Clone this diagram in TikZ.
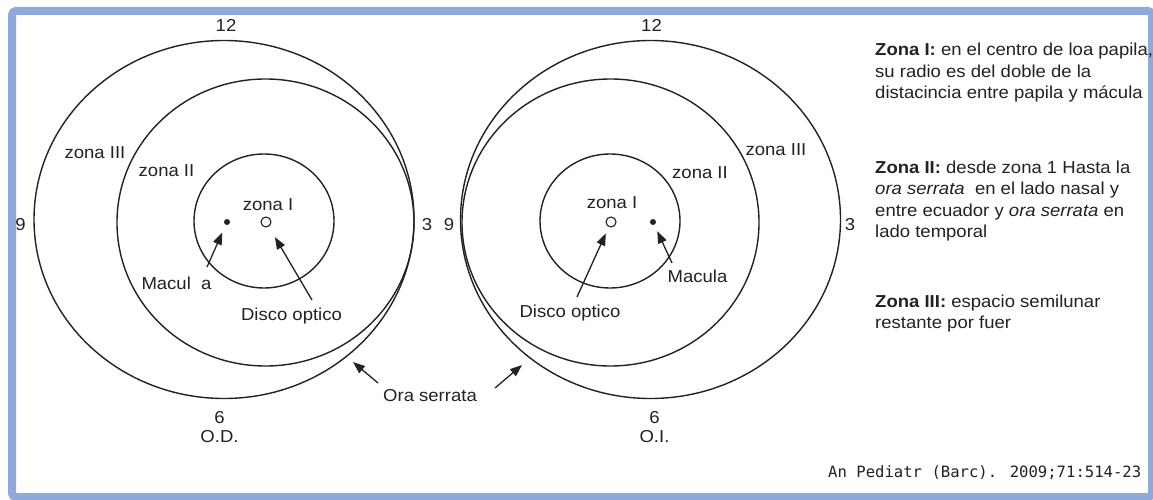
\documentclass[tikz,border=0pt]{standalone}
\usepackage{fontspec}
\setmainfont{Liberation Sans}[FakeStretch=1.07]
\newfontfamily\citefont{DejaVu Sans Mono}
\usetikzlibrary{arrows.meta}
\definecolor{framebl}{RGB}{143,169,219}
\definecolor{ink}{RGB}{34,34,34}
\begin{document}
\begin{tikzpicture}[x=1pt,y=-1pt,
  ring/.style={draw=ink, line width=1.4pt},
  lbl/.style={inner sep=0pt, text=ink, font=\fontsize{17.3}{21}\selectfont,
              text height=12.4pt, text depth=0pt},
  txt/.style={inner sep=0pt, anchor=base west, text=ink,
              font=\fontsize{17.3}{21}\selectfont},
  macdot/.style={circle, fill=ink, inner sep=0pt, minimum size=6pt},
  discdot/.style={circle, draw=ink, fill=white, line width=1.1pt, inner sep=0pt, minimum size=10pt},
  arr/.style={draw=ink, line width=1.3pt, -{Triangle[length=12pt,width=9pt]}}
]
\useasboundingbox (0,0) rectangle (1153,500);
\fill[white] (0,0) rectangle (1153,500);

% outer frame
\begin{scope}
\clip (0,0) rectangle (1153,500);
\draw[framebl, line width=8pt, rounded corners=4pt] (12,11) rectangle (1152,497);
\end{scope}

% ---------- right eye (O.D.) ----------
\draw[ring] (224,219.5) ellipse [x radius=190pt, y radius=179pt];
\draw[ring] (265.5,222.5) ellipse [x radius=148.5pt, y radius=143.5pt];
\draw[ring] (264,221) ellipse [x radius=70pt, y radius=67pt];

\node[macdot] (macL) at (227,222) {};
\node[discdot] (discL) at (266,222) {};

\node[lbl] (twelveL) at (226,25) {12};
\node[lbl] (nineL) at (20.5,224) {9};
\node[lbl] (threeL) at (427,224) {3};
\node[lbl] (sixL) at (219.5,417) {6};
\node[lbl] (od) at (219.5,436) {O.D.};
\node[lbl] (z3L) at (95,152.5) {zona III};
\node[lbl] (z2L) at (166.5,170) {zona II};
\node[lbl] (z1L) at (268,204) {zona I};
\node[lbl] (macTxtL) at (176.5,283) {Macul\ \ a};
\node[lbl] (discTxtL) at (291.5,314.5) {Disco optico};

\coordinate (macTailL) at (207,267);
\coordinate (discTailL) at (312,300);
\draw[arr, shorten >=8.5pt] (macTailL) -- (macL);
\draw[arr, shorten >=12pt] (discTailL) -- (discL);

% ---------- left eye (O.I.) ----------
\draw[ring] (650.5,219.5) ellipse [x radius=190pt, y radius=179pt];
\draw[ring] (610.5,222.5) ellipse [x radius=148.5pt, y radius=143.5pt];
\draw[ring] (610,221) ellipse [x radius=70pt, y radius=67pt];

\node[discdot] (discR) at (611,222) {};
\node[macdot] (macR) at (653,222) {};

\node[lbl] (twelveR) at (651.5,25) {12};
\node[lbl] (nineR) at (449,224) {9};
\node[lbl] (threeR) at (850,224) {3};
\node[lbl] (sixR) at (654.5,417) {6};
\node[lbl] (oi) at (654.5,436) {O.I.};
\node[lbl] (z3R) at (776,149.5) {zona III};
\node[lbl] (z2R) at (700,172.5) {zona II};
\node[lbl] (z1R) at (612,202.5) {zona I};
\node[lbl] (macTxtR) at (697.5,276) {Macula};
\node[lbl] (discTxtR) at (570,311.5) {Disco optico};

\coordinate (macTailR) at (672,263);
\coordinate (discTailR) at (577,297);
\draw[arr, shorten >=7pt] (macTailR) -- (macR);
\draw[arr, shorten >=7pt] (discTailR) -- (discR);

% ---------- ora serrata ----------
\node[lbl] (ora) at (430,395) {Ora serrata};
\coordinate (oraTailL) at (378,383);
\coordinate (oraTipL) at (353,362);
\coordinate (oraTailR) at (495,388);
\coordinate (oraTipR) at (522,365);
\draw[arr] (oraTailL) -- (oraTipL);
\draw[arr] (oraTailR) -- (oraTipR);

% ---------- legend ----------
\node[txt] (l1a) at (875,56) {\textbf{Zona I:} en el centro de loa papila,};
\node[txt] (l1b) at (875,77.5) {su radio es del doble de la};
\node[txt] (l1c) at (875,99) {distacincia entre papila y mácula};
\node[txt] (l2a) at (875,173) {\textbf{Zona II:} desde zona 1 Hasta la};
\node[txt] (l2b) at (875,194.5) {\textit{ora serrata}\ \ en el lado nasal y};
\node[txt] (l2c) at (875,216) {entre ecuador y \textit{ora serrata} en};
\node[txt] (l2d) at (875,237.5) {lado temporal};
\node[txt] (l3a) at (875,307) {\textbf{Zona III:} espacio semilunar};
\node[txt] (l3b) at (875,328.5) {restante por fuer};

% ---------- source ----------
\node[inner sep=0pt, anchor=base west, text=ink, font=\citefont\fontsize{15.6}{18}\selectfont]
  (cite) at (828,477) {An Pediatr (Barc). 2009;71:514-23};
\end{tikzpicture}
\end{document}
